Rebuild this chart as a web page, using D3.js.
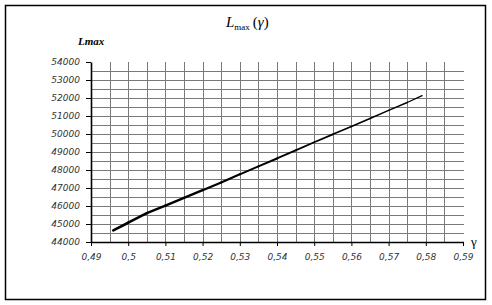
<!DOCTYPE html>
<html><head><meta charset="utf-8">
<script src="https://cdn.jsdelivr.net/npm/d3@7"></script>
<style>body{margin:0;background:#fff}svg{display:block}</style>
</head><body>
<script>
const gamma = [0.496,0.500,0.505,0.510,0.515,0.520,0.525,0.530,0.535,0.540,0.545,0.550,0.555,0.560,0.565,0.570,0.575,0.579];
const lmax  = [44650,45070,45600,46020,46450,46880,47310,47760,48200,48640,49090,49540,49980,50420,50860,51310,51750,52130];
const xTicks = [0.49,0.50,0.51,0.52,0.53,0.54,0.55,0.56,0.57,0.58,0.59];
const yTicks = [44000,45000,46000,47000,48000,49000,50000,51000,52000,53000,54000];
const xGrid = [0.495,0.50,0.505,0.51,0.515,0.52,0.525,0.53,0.535,0.54,0.545,0.55,0.555,0.56,0.565,0.57,0.575,0.58,0.585];
const yGrid = [44500,45000,45500,46000,46500,47000,47500,48000,48500,49000,49500,50000,50500,51000,51500,52000,52500,53000,53500];

const W=492,H=305;
const svg=d3.select("body").append("svg").attr("width",W).attr("height",H);
svg.append("rect").attr("x",5.5).attr("y",5.5).attr("width",480).attr("height",294)
  .attr("fill","#fff").attr("stroke","#000").attr("stroke-width",1.5);

const x=d3.scaleLinear().domain([0.49,0.59]).range([91,463]);
const y=d3.scaleLinear().domain([44000,54000]).range([242,62]);

const g=svg.append("g");
g.selectAll(".hg").data(yGrid).join("line")
  .attr("x1",x(0.49)).attr("x2",464).attr("y1",d=>Math.round(y(d))+0.5).attr("y2",d=>Math.round(y(d))+0.5)
  .attr("stroke","#7a7a7a").attr("stroke-width",1);
g.selectAll(".vg").data(xGrid).join("line")
  .attr("x1",d=>Math.round(x(d))+0.5).attr("x2",d=>Math.round(x(d))+0.5).attr("y1",y(54000)).attr("y2",y(44000))
  .attr("stroke","#7a7a7a").attr("stroke-width",1);

const fmt=d=>String(d).replace(".",",");
const xa=svg.append("g").attr("transform",`translate(0,${y(44000)})`)
  .call(d3.axisBottom(x).tickValues(xTicks).tickSize(4).tickSizeOuter(0).tickPadding(8).tickFormat(fmt));
xa.select(".domain").attr("d",`M${x(0.49)},0.5H464`).attr("stroke","#000").attr("stroke-width",1.3);
const ya=svg.append("g").attr("transform",`translate(${x(0.49)},0)`)
  .call(d3.axisLeft(y).tickValues(yTicks).tickSize(5).tickSizeOuter(0).tickPadding(6).tickFormat(d=>d));
ya.select(".domain").attr("stroke","#000").attr("stroke-width",1.6);
svg.selectAll(".tick line").attr("stroke","#000");
svg.selectAll(".tick text").attr("font-family","DejaVu Sans").attr("font-style","italic")
  .attr("font-size",9).attr("fill","#333");

// curve: thicker on the left, thinner toward the right
const pts=gamma.map((v,i)=>[x(v),y(lmax[i])]);
const segs=d3.pairs(pts);
const wScale=d3.scaleLinear().domain([0,segs.length-1]).range([2.6,1.3]);
svg.append("g").selectAll("line").data(segs).join("line")
  .attr("x1",d=>d[0][0]).attr("y1",d=>d[0][1]).attr("x2",d=>d[1][0]).attr("y2",d=>d[1][1])
  .attr("stroke","#000").attr("stroke-width",(d,i)=>wScale(i)).attr("stroke-linecap","round");

// labels
svg.append("text").attr("x",78).attr("y",45).attr("font-family","Liberation Serif")
  .attr("font-style","italic").attr("font-weight","bold").attr("font-size",11).text("Lmax");
svg.append("text").attr("x",471).attr("y",246).attr("font-family","Liberation Serif")
  .attr("font-size",13).text("γ");
const t=svg.append("text").attr("x",226).attr("y",27).attr("font-family","Liberation Serif").attr("font-size",15);
t.append("tspan").attr("font-style","italic").text("L");
t.append("tspan").attr("font-size",9).attr("dy",3).text("max");
t.append("tspan").attr("dy",-3).attr("dx",3).text("(");
t.append("tspan").attr("font-style","italic").text("γ");
t.append("tspan").text(")");
</script>
</body></html>
